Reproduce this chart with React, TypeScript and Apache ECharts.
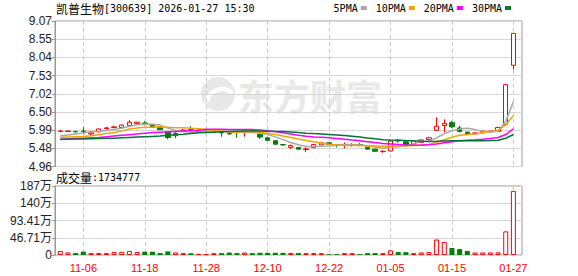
import React, { useEffect, useRef } from 'react';
import * as echarts from 'echarts';

const dates = [
  '11-03','11-04','11-05','11-06','11-07','11-10','11-11','11-12','11-13','11-14',
  '11-17','11-18','11-19','11-20','11-21','11-24','11-25','11-26','11-27','11-28',
  '12-01','12-02','12-03','12-04','12-05','12-08','12-09','12-10','12-11','12-12',
  '12-15','12-16','12-17','12-18','12-19','12-22','12-23','12-24','12-25','12-26',
  '12-29','12-30','12-31','01-05','01-06','01-07','01-08','01-09','01-12','01-13',
  '01-14','01-15','01-16','01-19','01-20','01-21','01-22','01-23','01-26','01-27',
];

const opens = [
  5.95,5.95,5.95,5.96,5.88,5.94,6.03,6.06,6.06,6.12,
  6.17,6.19,6.13,6.06,5.94,5.83,5.96,6.00,5.94,5.96,
  5.96,5.93,5.89,5.95,5.92,5.96,5.87,5.77,5.69,5.58,
  5.50,5.50,5.44,5.49,5.57,5.63,5.57,5.56,5.56,5.58,
  5.50,5.45,5.38,5.40,5.70,5.66,5.59,5.64,5.72,5.98,
  6.12,6.20,6.05,5.93,5.88,5.91,5.94,5.95,6.15,7.82,
];
const closes = [
  5.96,5.96,5.94,5.95,5.91,6.02,6.05,6.08,6.13,6.21,
  6.21,6.16,6.07,6.00,5.78,5.89,5.99,5.98,5.99,5.96,
  5.97,5.91,5.88,5.93,5.96,5.94,5.79,5.70,5.59,5.57,
  5.55,5.45,5.46,5.58,5.63,5.58,5.56,5.57,5.57,5.57,
  5.45,5.39,5.39,5.68,5.68,5.57,5.68,5.71,5.77,6.10,
  6.18,6.08,5.95,5.89,5.91,5.96,5.96,6.06,7.27,8.72,
];
const lows = [
  5.93,5.93,5.92,5.88,5.85,5.93,6.00,6.04,6.05,6.11,
  6.15,6.12,6.06,5.99,5.73,5.76,5.94,5.90,5.90,5.94,
  5.92,5.80,5.86,5.77,5.80,5.92,5.74,5.69,5.58,5.54,
  5.45,5.44,5.37,5.48,5.56,5.57,5.50,5.47,5.52,5.53,
  5.44,5.38,5.35,5.38,5.64,5.56,5.58,5.63,5.71,5.97,
  5.92,6.05,5.92,5.86,5.87,5.90,5.93,5.94,6.12,7.70,
];
const highs = [
  5.99,5.98,5.96,6.07,5.97,6.03,6.08,6.11,6.14,6.27,
  6.22,6.24,6.16,6.07,5.95,5.93,6.02,6.10,6.01,5.98,
  6.01,5.94,5.90,5.96,5.97,5.97,5.88,5.78,5.70,5.60,
  5.58,5.51,5.50,5.59,5.64,5.64,5.58,5.64,5.62,5.62,
  5.51,5.46,5.42,5.70,5.74,5.67,5.69,5.72,5.80,6.35,
  6.29,6.25,6.11,5.95,5.92,5.98,5.97,6.08,7.27,8.72,
];

const ma5 = [
  5.82,5.85,5.88,5.91,5.944,5.956,5.974,6.002,6.038,6.098,
  6.136,6.158,6.156,6.13,6.044,5.98,5.946,5.928,5.926,5.962,
  5.978,5.96,5.94,5.928,5.928,5.922,5.90,5.864,5.796,5.718,
  5.64,5.572,5.524,5.522,5.534,5.54,5.562,5.584,5.582,5.57,
  5.544,5.51,5.474,5.496,5.518,5.542,5.60,5.664,5.682,5.766,
  5.888,5.968,6.016,6.04,6.002,5.958,5.934,5.956,6.232,6.794,
];
const ma10 = [
  5.78,5.79,5.80,5.81,5.83,5.86,5.89,5.92,5.96,6.021,
  6.046,6.066,6.079,6.084,6.071,6.058,6.052,6.042,6.028,6.003,
  5.979,5.953,5.934,5.927,5.945,5.95,5.93,5.902,5.862,5.823,
  5.781,5.736,5.694,5.659,5.626,5.59,5.567,5.554,5.552,5.552,
  5.542,5.536,5.529,5.539,5.544,5.543,5.555,5.569,5.589,5.642,
  5.715,5.784,5.84,5.861,5.884,5.923,5.951,5.986,6.136,6.398,
];
const ma20 = [
  5.72,5.74,5.75,5.76,5.77,5.78,5.80,5.82,5.84,5.86,
  5.88,5.90,5.92,5.93,5.94,5.95,5.96,5.97,5.98,6.012,
  6.013,6.01,6.007,6.006,6.008,6.004,5.991,5.972,5.945,5.913,
  5.88,5.845,5.814,5.793,5.786,5.77,5.749,5.728,5.707,5.688,
  5.662,5.636,5.612,5.599,5.585,5.567,5.561,5.562,5.571,5.597,
  5.629,5.66,5.685,5.70,5.714,5.733,5.753,5.778,5.863,6.02,
];
const ma30 = [
  5.73,5.73,5.735,5.74,5.745,5.75,5.755,5.76,5.77,5.78,
  5.79,5.80,5.81,5.82,5.84,5.86,5.87,5.89,5.91,5.92,
  5.93,5.94,5.95,5.955,5.96,5.96,5.96,5.955,5.95,5.949,
  5.935,5.918,5.902,5.89,5.881,5.866,5.85,5.833,5.814,5.793,
  5.767,5.742,5.719,5.708,5.705,5.694,5.684,5.675,5.668,5.672,
  5.679,5.685,5.688,5.686,5.685,5.685,5.691,5.703,5.759,5.864,
];

const volumes = [
  108000,70000,52000,90000,50000,52000,50000,80000,86000,110000,
  80000,90000,88000,52000,98000,70000,50000,48000,32000,22000,
  50000,50000,66000,52000,68000,50000,60000,58000,60000,58000,
  56000,52000,50000,52000,50000,22000,24000,50000,50000,22000,
  50000,52000,50000,126000,80000,78000,50000,70000,80000,420000,
  350000,190000,160000,110000,68000,70000,70000,72000,640000,1734777,
];

const priceTicks = ['4.96','5.48','5.99','6.50','7.02','7.53','8.04','8.55','9.07'];
const priceMin = 4.96;
const priceMax = 9.07;
const volTicks = ['0','46.71万','93.41万','140万','187万'];
const volMax = 1868240;
const xTickLabels = ['11-06','11-18','11-28','12-10','12-22','01-05','01-15','01-27'];

const maNames = ['5PMA', '10PMA', '20PMA', '30PMA'];
const maColors = ['#a8a8a8', '#f0a30a', '#ff00ff', '#00753a'];

const RED = '#ff0000';
const GREEN = '#008000';

export default function App() {
  const ref = useRef<HTMLDivElement>(null);
  useEffect(() => {
    const chart = echarts.init(ref.current!, null, { renderer: 'svg' });
    const maData = [ma5, ma10, ma20, ma30];
    const candleData = opens.map((o, i) => [o, closes[i], lows[i], highs[i]]);
    const volData = volumes.map((v, i) => ({
      value: v,
      itemStyle: closes[i] < opens[i]
        ? { color: GREEN, borderColor: GREEN, borderWidth: 0 }
        : { color: '#ffffff', borderColor: RED, borderWidth: 1 },
    }));
    const showTick = (_i: number, v: string) => xTickLabels.includes(v);
    const labelFont = 'Liberation Sans, Noto Sans CJK SC, sans-serif';
    const richTitle = {
      fontWeight: 'normal',
      rich: {
        c: { fontFamily: 'Noto Sans CJK SC', fontSize: 12, color: '#000', fontWeight: 'normal', lineHeight: 14 },
        a: { fontFamily: 'DejaVu Sans Mono', fontSize: 10, color: '#000', fontWeight: 'normal', lineHeight: 14 },
      },
    };

    const option: any = {
      animation: false,
      backgroundColor: '#ffffff',
      title: [
        {
          left: 56, top: 1, padding: 0,
          text: '{c|凯普生物}{a|[300639] 2026-01-27 15:30}',
          textStyle: richTitle,
        },
        {
          left: 56, top: 170, padding: 0,
          text: '{c|成交量}{a|:' + volumes[volumes.length - 1] + '}',
          textStyle: richTitle,
        },
      ],
      legend: {
        data: maNames,
        right: 67, top: 3, padding: 0,
        align: 'right', icon: 'rect',
        itemWidth: 6, itemHeight: 4, itemGap: 9,
        textStyle: { fontFamily: 'DejaVu Sans Mono', fontSize: 10, color: '#000', padding: [0, -2, 0, 0] },
      },
      graphic: [
        {
          type: 'circle', z: -10, silent: true,
          shape: { cx: 218, cy: 94, r: 17 },
          style: { fill: '#e8e8e8' },
        },
        {
          type: 'arc', z: -9, silent: true,
          shape: { cx: 222, cy: 104, r: 15, startAngle: Math.PI * 1.05, endAngle: Math.PI * 1.75 },
          style: { stroke: '#ffffff', lineWidth: 4, fill: 'none' },
        },
        {
          type: 'text', z: -10, silent: true,
          x: 238, y: 95,
          style: {
            text: '东方财富', fill: '#e8e8e8',
            font: 'bold 36px "Noto Sans CJK SC"',
            verticalAlign: 'middle',
          },
        },
      ],
      grid: [
        { left: 55, top: 21, width: 467, height: 145.5, show: true, borderColor: '#999', borderWidth: 1, backgroundColor: 'transparent' },
        { left: 60.3, top: 21, width: 453.1, height: 145.5, show: false },
        { left: 55, top: 186, width: 467, height: 69, show: true, borderColor: '#999', borderWidth: 1, backgroundColor: 'transparent' },
        { left: 60.3, top: 186, width: 453.1, height: 69, show: false },
      ],
      xAxis: [
        { gridIndex: 0, type: 'value', min: 0, max: 1, show: false },
        {
          gridIndex: 1, type: 'category', data: dates, boundaryGap: false,
          axisLine: { show: false }, axisTick: { show: false }, axisLabel: { show: false },
          splitLine: { show: true, interval: showTick, lineStyle: { color: '#cccccc', type: [4, 3] } },
        },
        { gridIndex: 2, type: 'value', min: 0, max: 1, show: false },
        {
          gridIndex: 3, type: 'category', data: dates, boundaryGap: false,
          axisLine: { show: false }, axisTick: { show: false },
          axisLabel: { show: true, interval: showTick, margin: 7, color: RED, fontSize: 11, fontFamily: 'Liberation Sans' },
          splitLine: { show: true, interval: showTick, lineStyle: { color: '#cccccc', type: [4, 3] } },
        },
      ],
      yAxis: [
        {
          gridIndex: 0, type: 'value', min: priceMin, max: priceMax, interval: (priceMax - priceMin) / 8,
          axisLine: { show: true, lineStyle: { color: '#999' } },
          axisTick: { show: true, length: 3, lineStyle: { color: '#999' } },
          axisLabel: {
            margin: 3, fontSize: 12, fontFamily: labelFont, color: '#222',
            formatter: (_v: number, i: number) => priceTicks[i] ?? '',
          },
          splitLine: { show: true, lineStyle: { color: '#d6d6d6' } },
        },
        { gridIndex: 1, type: 'value', min: priceMin, max: priceMax, show: false },
        {
          gridIndex: 2, type: 'value', min: 0, max: volMax, interval: volMax / 4,
          axisLine: { show: true, lineStyle: { color: '#999' } },
          axisTick: { show: true, length: 3, lineStyle: { color: '#999' } },
          axisLabel: {
            margin: 3, fontSize: 12, fontFamily: labelFont, color: '#222',
            formatter: (_v: number, i: number) => volTicks[i] ?? '',
          },
          splitLine: { show: true, lineStyle: { color: '#d6d6d6' } },
        },
        { gridIndex: 3, type: 'value', min: 0, max: volMax, show: false },
      ],
      series: [
        {
          type: 'candlestick', name: 'K', xAxisIndex: 1, yAxisIndex: 1,
          data: candleData, barWidth: 5, clip: false,
          itemStyle: { color: '#ffffff', color0: GREEN, borderColor: RED, borderColor0: GREEN, borderWidth: 1 },
        },
        ...maData.map((d, k) => ({
          type: 'line', name: maNames[k], xAxisIndex: 1, yAxisIndex: 1,
          data: d, symbol: 'none', showSymbol: false, smooth: false, clip: false,
          itemStyle: { color: maColors[k] },
          lineStyle: { color: maColors[k], width: 1.5 },
        })),
        {
          type: 'bar', name: 'VOL', xAxisIndex: 3, yAxisIndex: 3,
          data: volData, barWidth: 5, clip: false,
        },
      ],
    };
    chart.setOption(option);
    return () => chart.dispose();
  }, []);
  return <div ref={ref} style={{ position: 'fixed', left: 0, top: 0, width: 578, height: 276 }} />;
}
